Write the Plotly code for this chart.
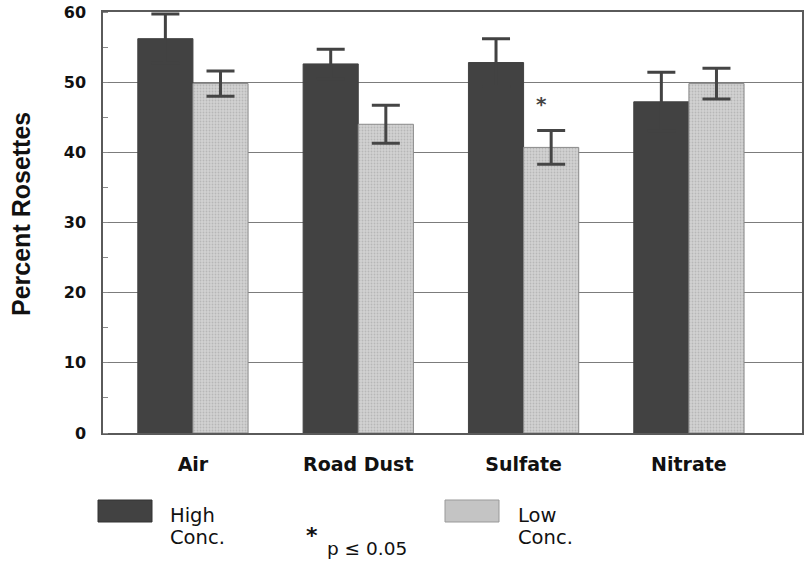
import plotly.graph_objects as go

categories = ["Air", "Road Dust", "Sulfate", "Nitrate"]
high_conc = [56.2, 52.6, 52.8, 47.2]
high_err = [3.5, 2.1, 3.4, 4.2]
low_conc = [49.8, 44.0, 40.7, 49.8]
low_err = [1.8, 2.7, 2.4, 2.2]
y_ticks = [0, 10, 20, 30, 40, 50, 60]

x_pos = list(range(len(categories)))

DARK = "#424242"
LIGHT_BG = "#d2d2d2"
LIGHT_FG = "#9c9c9c"
ERR = "#454545"
BOLD_FONT = "DejaVu Sans, Liberation Sans, sans-serif"
TITLE_FONT = "Liberation Sans, Arial, sans-serif"

# plot-area geometry in pixels (for placing the manual legend)
L, R, T, B = 103, 802, 12, 433


def px_x(px):
    return (px - L) / float(R - L)


def px_y(py):
    return (B - py) / float(B - T)


fig = go.Figure()
fig.add_trace(go.Bar(
    x=x_pos, y=high_conc, name="High Conc.",
    marker=dict(color=DARK, line=dict(color=DARK, width=1)),
    error_y=dict(type="data", array=high_err, color=DARK, thickness=3, width=14),
    showlegend=False,
))
fig.add_trace(go.Bar(
    x=x_pos, y=low_conc, name="Low Conc.",
    marker=dict(color=LIGHT_BG, line=dict(color="#8a8a8a", width=1),
                pattern=dict(shape=".", fgcolor=LIGHT_FG, bgcolor=LIGHT_BG,
                             size=3, solidity=0.3)),
    error_y=dict(type="data", array=low_err, color=ERR, thickness=3, width=14),
    showlegend=False,
))

fig.update_layout(
    width=806, height=561,
    margin=dict(l=L, r=806 - R, t=T, b=561 - B, autoexpand=False),
    paper_bgcolor="white", plot_bgcolor="white",
    barmode="group", bargap=0.333, bargroupgap=0,
    font=dict(family=BOLD_FONT, color="#111111"),
)
fig.update_xaxes(
    range=[-0.544, 3.684], automargin=False,
    tickmode="array", tickvals=x_pos, ticktext=categories,
    tickfont=dict(size=19, weight="bold", family=BOLD_FONT, color="#111111"),
    ticks="", ticklabelstandoff=13,
    showline=True, linecolor="#5a5a5a", linewidth=1.5, mirror=True,
    showgrid=False, zeroline=False,
)
fig.update_yaxes(
    range=[0, 60], automargin=False, tickmode="array", tickvals=y_ticks,
    tickfont=dict(size=16, weight="bold", family=BOLD_FONT, color="#111111"),
    ticks="", ticklabelstandoff=12,
    showline=True, linecolor="#5a5a5a", linewidth=1.5, mirror=True,
    showgrid=True, gridcolor="#7c7c7c", gridwidth=1.4,
    zeroline=False,
    minor=dict(dtick=5, ticks="inside", ticklen=5, tickcolor="#888888", showgrid=False),
)

# y-axis title
fig.add_annotation(xref="paper", yref="paper", x=px_x(20.5), y=px_y(214.5),
                   text="<b>Percent Rosettes</b>", textangle=-90, showarrow=False,
                   xanchor="center", yanchor="middle",
                   font=dict(size=25, family=TITLE_FONT, color="#111111"))

# significance star over Sulfate low bar
fig.add_annotation(x=2.11, y=46.9, xref="x", yref="y", text="<b>*</b>", showarrow=False,
                   font=dict(size=20, color="#444444", family=BOLD_FONT), yanchor="middle")

# legend (drawn manually below the plot)
fig.add_shape(type="rect", xref="paper", yref="paper",
              x0=px_x(98), x1=px_x(152), y0=px_y(522), y1=px_y(500),
              fillcolor=DARK, line=dict(color="#333333", width=1))
fig.add_shape(type="rect", xref="paper", yref="paper",
              x0=px_x(445), x1=px_x(499), y0=px_y(522), y1=px_y(500),
              fillcolor="#c4c4c4", line=dict(color="#999999", width=1))

legend_texts = [("High", 168, 515), ("Conc.", 168, 537),
                ("Low", 516, 515), ("Conc.", 516, 537)]
for txt, x, y in legend_texts:
    fig.add_annotation(xref="paper", yref="paper", x=px_x(x), y=px_y(y),
                       text=txt, showarrow=False, xanchor="left", yanchor="middle",
                       font=dict(size=19.5, family=BOLD_FONT, color="#111111"))

fig.add_annotation(xref="paper", yref="paper", x=px_x(312), y=px_y(535),
                   text="<b>*</b>", showarrow=False,
                   xanchor="center", yanchor="middle",
                   font=dict(size=22, family=BOLD_FONT, color="#111111"))
fig.add_annotation(xref="paper", yref="paper", x=px_x(325), y=px_y(548),
                   text="p ≤ 0.05", showarrow=False,
                   xanchor="left", yanchor="middle",
                   font=dict(size=18.5, family=BOLD_FONT, color="#111111"))

fig.write_html("out.html",
               config={"displayModeBar": False},
               post_script="document.body.style.margin='0';document.body.style.overflow='hidden';")
